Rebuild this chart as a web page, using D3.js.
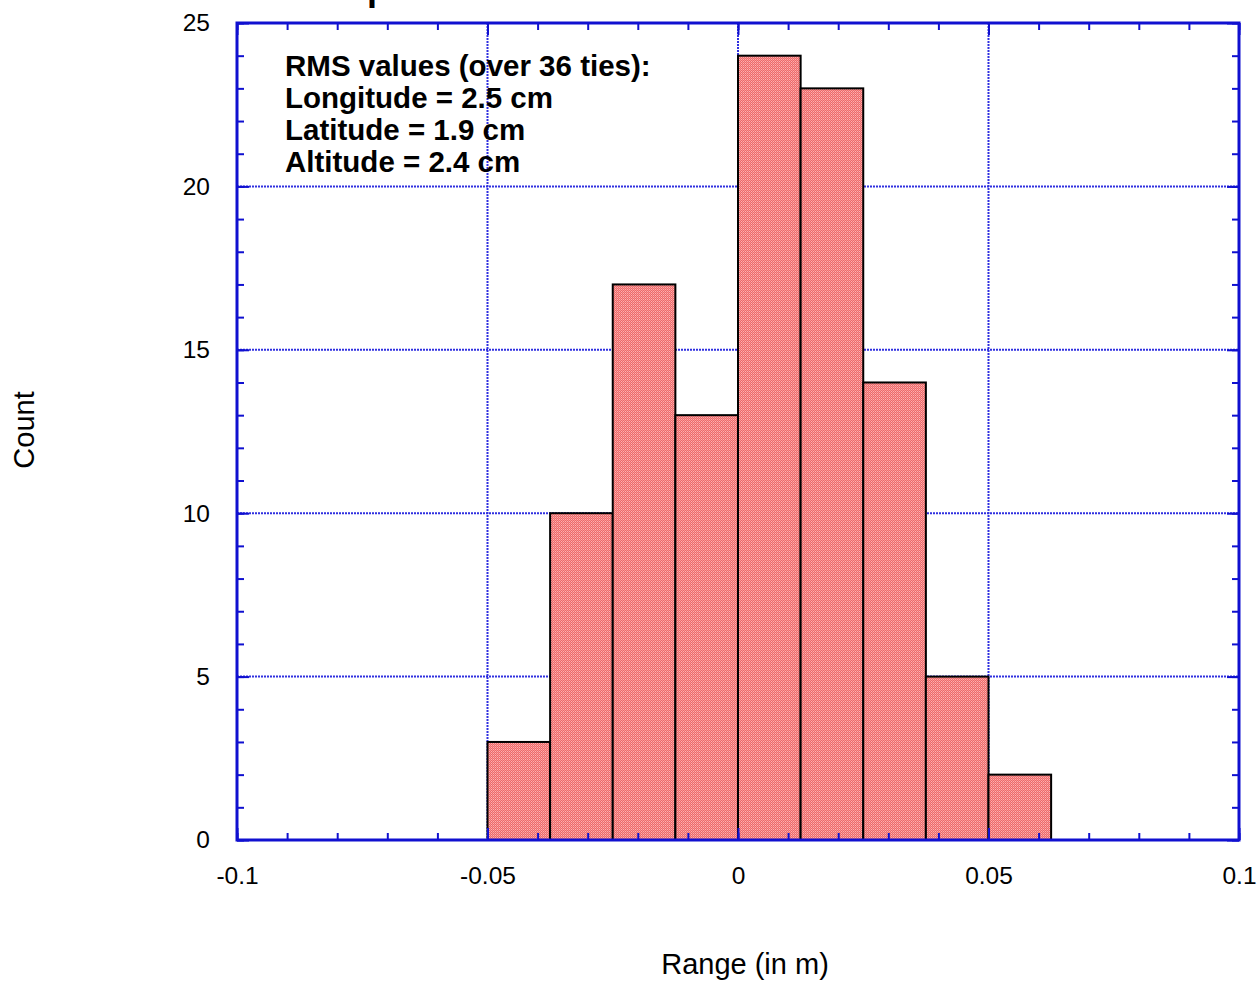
<!DOCTYPE html>
<html>
<head>
<meta charset="utf-8">
<script src="https://cdn.jsdelivr.net/npm/d3@7"></script>
<style>
  body { margin: 0; background: #fff; }
  text { font-family: "Liberation Sans", Arial, sans-serif; }
</style>
</head>
<body>
<div class="chart"></div>
<script>
// DATA
// ----------------------------
const binStarts = [-0.05, -0.0375, -0.025, -0.0125, 0, 0.0125, 0.025, 0.0375, 0.05]
const binWidth = 0.0125
const counts = [3, 10, 17, 13, 24, 23, 14, 5, 2]
const xTicks = [-0.1, -0.05, 0, 0.05, 0.1]
const yTicks = [0, 5, 10, 15, 20, 25]
const notes = ['RMS values (over 36 ties):', 'Longitude = 2.5 cm', 'Latitude = 1.9 cm', 'Altitude = 2.4 cm']

// SETUP
// ----------------------------
const fullWidth = 1257
const fullHeight = 981
const margin = { top: 23, bottom: 141, left: 237, right: 18 }
const width = fullWidth - margin.left - margin.right
const height = fullHeight - margin.top - margin.bottom
const axisBlue = '#1010d0'

const root = d3.select('.chart')
  .append('svg')
    .attr('width', fullWidth)
    .attr('height', fullHeight)

// dithered pink fill
const pat = root.append('defs').append('pattern')
  .attr('id', 'dither')
  .attr('width', 2).attr('height', 2)
  .attr('patternUnits', 'userSpaceOnUse')
pat.append('rect').attr('width', 2).attr('height', 2).attr('fill', '#f06868')
pat.append('rect').attr('width', 1).attr('height', 1).attr('fill', '#f8b4b4')
pat.append('rect').attr('x', 1).attr('y', 1).attr('width', 1).attr('height', 1).attr('fill', '#f49494')

// title, mostly above the page edge (as in the original)
root.append('text')
  .attr('x', 287).attr('y', 0)
  .style('font-size', '36px').style('font-weight', 'bold')
  .text('Comparison')

const svg = root.append('g')
  .attr('transform', `translate(${margin.left}, ${margin.top})`)

// SCALES
// ----------------------------
const xScale = d3.scaleLinear().domain([-0.1, 0.1]).range([0, width])
const yScale = d3.scaleLinear().domain([0, 25]).range([height, 0])

// GRID
// ----------------------------
svg.append('g')
  .selectAll('line')
  .data(xTicks.slice(1, -1))
  .enter().append('line')
    .attr('x1', d => xScale(d)).attr('x2', d => xScale(d))
    .attr('y1', 0).attr('y2', height)
    .attr('stroke', '#3030e0').attr('stroke-width', 2)
    .attr('stroke-dasharray', '2,1')

svg.append('g')
  .selectAll('line')
  .data(yTicks.slice(1, -1))
  .enter().append('line')
    .attr('y1', d => yScale(d)).attr('y2', d => yScale(d))
    .attr('x1', 0).attr('x2', width)
    .attr('stroke', '#3030e0').attr('stroke-width', 2)
    .attr('stroke-dasharray', '2,1')

// BARS
// ----------------------------
svg.selectAll('.bar')
  .data(counts)
  .enter().append('rect')
    .attr('class', 'bar')
    .attr('x', (d, i) => xScale(binStarts[i]))
    .attr('width', (d, i) => xScale(binStarts[i] + binWidth) - xScale(binStarts[i]))
    .attr('y', d => yScale(d))
    .attr('height', d => height - yScale(d))
    .attr('fill', 'url(#dither)')
    .attr('stroke', '#000')
    .attr('stroke-width', 2)

// AXES (box with inward ticks)
// ----------------------------
function tickAxis (axis, scale, ticks, size, transform) {
  svg.append('g')
    .attr('transform', transform)
    .call(axis(scale).tickValues(ticks).tickSize(size).tickFormat(''))
    .call(g => g.select('.domain').remove())
    .call(g => g.selectAll('line').attr('stroke', axisBlue).attr('stroke-width', 2))
}
const xMinor = d3.range(-10, 11).map(d => d / 100)
const yMinor = d3.range(0, 26)

tickAxis(d3.axisTop, xScale, xMinor, 7, `translate(0, ${height})`)
tickAxis(d3.axisTop, xScale, xTicks, 12, `translate(0, ${height})`)
tickAxis(d3.axisBottom, xScale, xMinor, 7, 'translate(0, 0)')
tickAxis(d3.axisBottom, xScale, xTicks, 12, 'translate(0, 0)')
tickAxis(d3.axisRight, yScale, yMinor, 7, 'translate(0, 0)')
tickAxis(d3.axisRight, yScale, yTicks, 12, 'translate(0, 0)')
tickAxis(d3.axisLeft, yScale, yMinor, 7, `translate(${width}, 0)`)
tickAxis(d3.axisLeft, yScale, yTicks, 12, `translate(${width}, 0)`)

svg.append('rect')
  .attr('width', width).attr('height', height)
  .attr('fill', 'none')
  .attr('stroke', axisBlue).attr('stroke-width', 3)

// tick labels
const hyphen = d => String(d).replace('\u2212', '-')
svg.append('g')
  .attr('transform', `translate(0, ${height + 24})`)
  .call(d3.axisBottom(xScale).tickValues(xTicks).tickSize(0).tickFormat(hyphen))
  .call(g => g.select('.domain').remove())
  .call(g => g.selectAll('text').style('font-size', '24.5px').attr('fill', '#000')
    .style('font-family', '"Liberation Sans", Arial, sans-serif'))

svg.append('g')
  .attr('transform', 'translate(-24, 0)')
  .call(d3.axisLeft(yScale).tickValues(yTicks).tickSize(0))
  .call(g => g.select('.domain').remove())
  .call(g => g.selectAll('text').style('font-size', '24.5px').attr('fill', '#000')
    .style('font-family', '"Liberation Sans", Arial, sans-serif'))

// LABELS
// ----------------------------
root.append('text')
  .attr('transform', 'translate(34, 430) rotate(-90)')
  .attr('text-anchor', 'middle')
  .style('font-size', '29px')
  .text('Count')

root.append('text')
  .attr('x', 745).attr('y', 974)
  .attr('text-anchor', 'middle')
  .style('font-size', '29px')
  .text('Range (in m)')

root.append('g')
  .selectAll('text')
  .data(notes)
  .enter().append('text')
    .attr('x', 285)
    .attr('y', (d, i) => 76 + i * 32)
    .style('font-size', '29.5px').style('font-weight', 'bold')
    .text(d => d)
</script>
</body>
</html>
